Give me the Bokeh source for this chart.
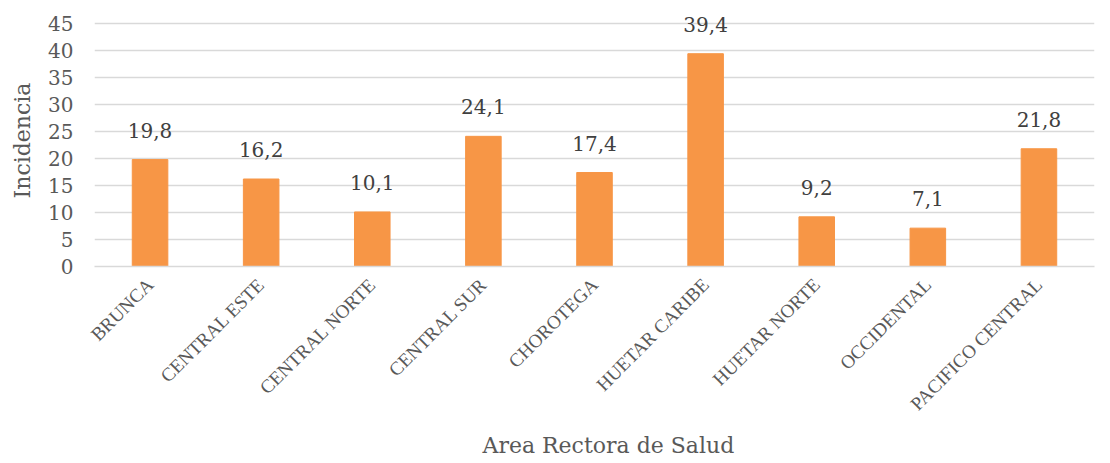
import math
from bokeh.plotting import figure
from bokeh.models import (ColumnDataSource, Range1d, FactorRange, SingleIntervalTicker,
                          Title, LabelSet)
from bokeh.core.properties import value
from bokeh.embed import file_html
from bokeh.resources import INLINE

areas = ["BRUNCA", "CENTRAL ESTE", "CENTRAL NORTE", "CENTRAL SUR", "CHOROTEGA",
         "HUETAR CARIBE", "HUETAR NORTE", "OCCIDENTAL", "PACIFICO CENTRAL"]
incidencia = [19.8, 16.2, 10.1, 24.1, 17.4, 39.4, 9.2, 7.1, 21.8]
labels = [f"{v:.1f}".replace(".", ",") for v in incidencia]

NUM_FONT = "DejaVu Serif"
CAT_FONT = "Liberation Serif"
GREY = "#595959"

src = ColumnDataSource(dict(x=areas, y=incidencia, lab=labels))

p = figure(x_range=FactorRange(*areas, range_padding=0), y_range=Range1d(0, 46.66),
           width=1102, height=463, output_backend="svg", toolbar_location=None,
           min_border_left=94, min_border_right=8, min_border_top=14, min_border_bottom=180)
p.outline_line_color = None
p.background_fill_color = "white"

p.vbar(x="x", top="y", width=0.32, source=src, color="#F79646")
ls = LabelSet(x="x", y="y", text="lab", source=src, text_align="center",
              text_baseline="alphabetic", y_offset=22, text_font=value(NUM_FONT),
              text_font_size=value("20px"), text_color=value("#404040"))
p.add_layout(ls)

p.yaxis.ticker = SingleIntervalTicker(interval=5)
p.ygrid.grid_line_color = "#D9D9D9"
p.ygrid.grid_line_width = 1.3
p.xgrid.grid_line_color = None

p.yaxis.axis_line_color = None
p.yaxis.major_tick_line_color = None
p.yaxis.minor_tick_line_color = None
p.yaxis.major_label_text_font = NUM_FONT
p.yaxis.major_label_text_font_size = "20px"
p.yaxis.major_label_text_color = GREY
p.yaxis.major_label_standoff = 15
p.yaxis.axis_label = "Incidencia"
p.yaxis.axis_label_text_font = NUM_FONT
p.yaxis.axis_label_text_font_size = "22px"
p.yaxis.axis_label_text_font_style = "normal"
p.yaxis.axis_label_text_color = GREY
p.yaxis.axis_label_standoff = 10

p.xaxis.axis_line_color = "#D9D9D9"
p.xaxis.axis_line_width = 1.3
p.xaxis.major_tick_line_color = None
p.xaxis.minor_tick_line_color = None
p.xaxis.major_label_orientation = math.pi / 4
p.xaxis.major_label_text_font = CAT_FONT
p.xaxis.major_label_text_font_size = "19px"
p.xaxis.major_label_text_color = GREY
p.xaxis.major_label_standoff = 9

xt = Title(text="Area Rectora de Salud", align="left", offset=388,
           text_font=NUM_FONT, text_font_size="22px", text_font_style="normal",
           text_color=GREY, standoff=12)
p.add_layout(xt, "below")

open("out.html", "w").write(file_html(p, INLINE))
